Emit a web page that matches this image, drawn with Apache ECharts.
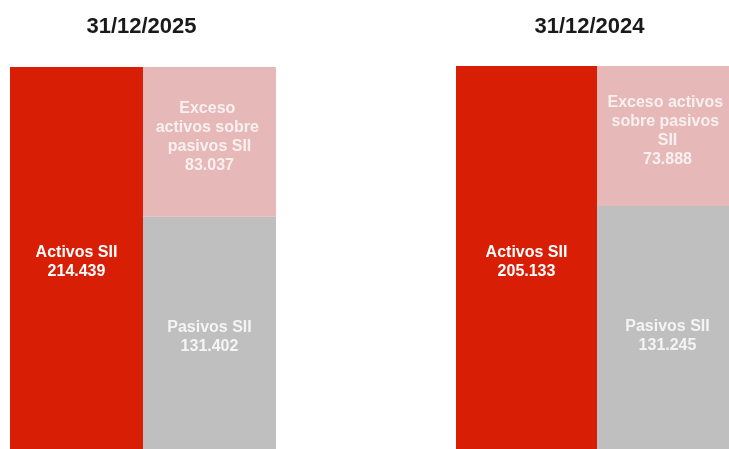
<!DOCTYPE html>
<html>
<head>
<meta charset="utf-8">
<script src="https://cdn.jsdelivr.net/npm/echarts@6/dist/echarts.min.js"></script>
<style>
  html, body { margin: 0; padding: 0; background: #fff; }
  #chart { width: 729px; height: 449px; }
</style>
</head>
<body>
<div id="chart"></div>
<script>
// Balance económico Solvencia II (miles de euros)
const periods = ['31/12/2025', '31/12/2024'];
const activosSII = [214439, 205133];
const pasivosSII = [131402, 131245];
const excesoSII = [83037, 73888];
const seriesNames = ['Activos SII', 'Pasivos SII', 'Exceso activos sobre pasivos SII'];

const colors = { activos: '#D81E05', pasivos: '#BFBFBF', exceso: '#E6B8B8' };

function fmt(v) {
  return String(v).replace(/\B(?=(\d{3})+(?!\d))/g, '.');
}

// panel geometry (the bars run past the bottom/right edge of the canvas)
const grids = [
  { left: 10, width: 266, top: 67, height: 387, labelWidth: 110, pasivosShift: 2 },
  { left: 456, width: 282, top: 66, height: 389, labelWidth: 125, pasivosShift: 6 }
];
const titleX = [141.5, 589.5];

const option = {
  animation: false,
  backgroundColor: '#fff',
  title: periods.map((p, i) => ({
    text: p,
    left: titleX[i],
    top: 16,
    padding: 0,
    textAlign: 'center',
    textStyle: { fontFamily: 'Liberation Sans, Arial, sans-serif', fontWeight: 'bold', fontSize: 22, color: '#1a1a1a' }
  })),
  grid: grids.map(g => ({
    left: g.left, width: g.width, top: g.top, height: g.height,
    containLabel: false, outerBoundsMode: 'none'
  })),
  xAxis: grids.map((g, i) => ({
    type: 'category', gridIndex: i, data: ['activo', 'pasivo'],
    show: false
  })),
  yAxis: grids.map((g, i) => ({
    type: 'value', gridIndex: i, min: 0, max: activosSII[i], show: false
  })),
  series: []
};

const labelBase = {
  show: true,
  position: 'inside',
  color: '#fff',
  fontFamily: 'Liberation Sans, Arial, sans-serif',
  fontWeight: 'bold',
  fontSize: 16,
  lineHeight: 19,
  align: 'center',
  overflow: 'break'
};

periods.forEach((p, i) => {
  const g = grids[i];
  const lw = g.labelWidth;
  option.series.push(
    {
      name: seriesNames[0], type: 'bar', stack: 'balance' + i,
      xAxisIndex: i, yAxisIndex: i, barCategoryGap: '0%',
      data: [activosSII[i], '-'],
      itemStyle: { color: colors.activos },
      label: Object.assign({}, labelBase, { width: lw, offset: [0, 2], formatter: pr => seriesNames[0] + '\n' + fmt(pr.value) })
    },
    {
      name: seriesNames[1], type: 'bar', stack: 'balance' + i,
      xAxisIndex: i, yAxisIndex: i, barCategoryGap: '0%',
      data: ['-', pasivosSII[i]],
      itemStyle: { color: colors.pasivos },
      label: Object.assign({}, labelBase, { width: lw, color: '#f4f4f4', offset: [0, g.pasivosShift], formatter: pr => seriesNames[1] + '\n' + fmt(pr.value) })
    },
    {
      name: seriesNames[2], type: 'bar', stack: 'balance' + i,
      xAxisIndex: i, yAxisIndex: i, barCategoryGap: '0%',
      data: ['-', excesoSII[i]],
      itemStyle: { color: colors.exceso },
      label: Object.assign({}, labelBase, { width: lw, color: '#f8f0f0', offset: [0, -5], formatter: pr => seriesNames[2] + '\n' + fmt(pr.value) })
    }
  );
});

const chart = echarts.init(document.getElementById('chart'), null, { renderer: 'canvas' });
chart.setOption(option);
</script>
</body>
</html>
